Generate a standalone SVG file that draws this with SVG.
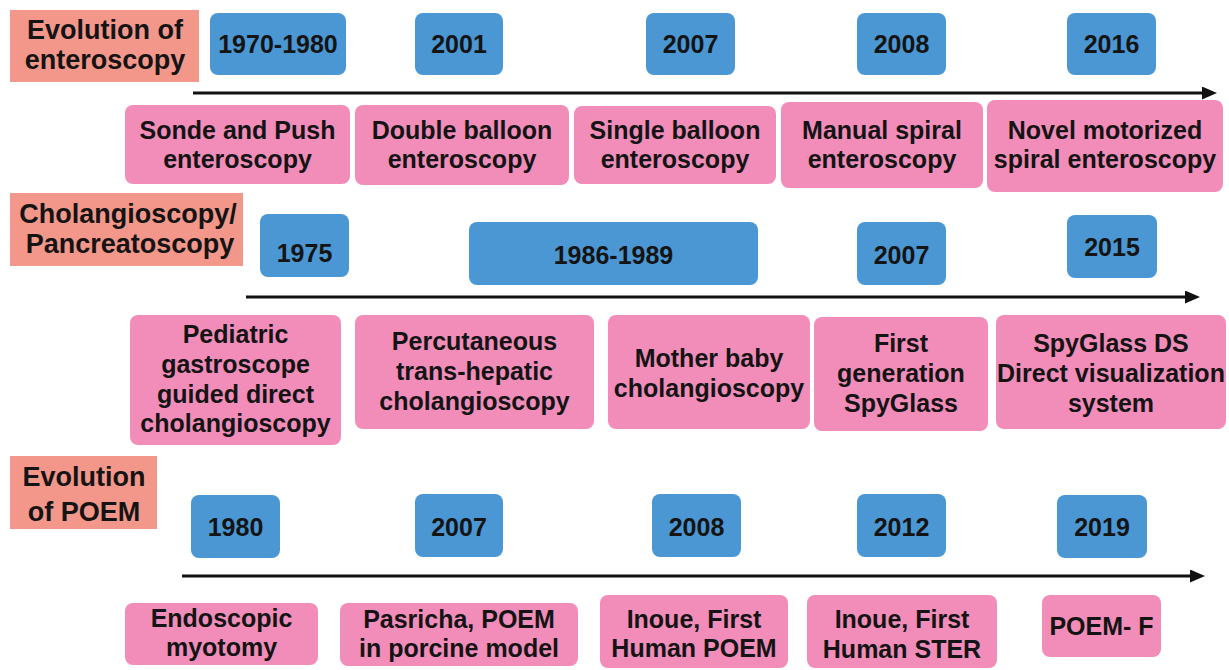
<svg xmlns="http://www.w3.org/2000/svg" width="1229" height="670" viewBox="0 0 1229 670">
<style>
text{font-family:"Liberation Sans",Arial,sans-serif;font-weight:bold;fill:#141414;text-anchor:middle}
.title rect{fill:#F4978B}
.title text{font-size:27px}
.year rect{fill:#4A97D4}
.year text{font-size:25px}
.event rect{fill:#F28DBA}
.event text{font-size:25px}
.axis{stroke:#111;stroke-width:3;fill:none}
</style>
<defs>
<marker id="ah" markerUnits="userSpaceOnUse" markerWidth="15" markerHeight="13" refX="0" refY="6.5" orient="auto">
<path d="M0,0 L15,6.5 L0,13 z" fill="#111"/>
</marker>
</defs>
<rect width="1229" height="670" fill="#fff"/>

<!-- Row 1: enteroscopy -->
<g id="title-enteroscopy" class="title"><rect x="10" y="10" width="189" height="72"/><text x="105" y="39">Evolution of</text><text x="105" y="69">enteroscopy</text></g>
<g id="y-1970-1980" class="year"><rect x="210" y="13" width="136" height="62" rx="8"/><text x="278" y="53">1970-1980</text></g>
<g id="y-2001" class="year"><rect x="415" y="13" width="88" height="62" rx="8"/><text x="459" y="53">2001</text></g>
<g id="y-2007a" class="year"><rect x="646" y="13" width="89" height="62" rx="8"/><text x="690.5" y="53">2007</text></g>
<g id="y-2008a" class="year"><rect x="857" y="13" width="89" height="62" rx="8"/><text x="901.5" y="53">2008</text></g>
<g id="y-2016" class="year"><rect x="1067" y="13" width="89" height="62" rx="8"/><text x="1111.5" y="53">2016</text></g>
<g id="e-sonde" class="event"><rect x="125" y="105" width="225" height="79" rx="8"/><text x="237.5" y="139">Sonde and Push</text><text x="237.5" y="168">enteroscopy</text></g>
<g id="e-double" class="event"><rect x="355" y="105" width="214" height="80" rx="8"/><text x="462" y="139">Double balloon</text><text x="462" y="168">enteroscopy</text></g>
<g id="e-single" class="event"><rect x="574" y="106" width="202" height="78" rx="8"/><text x="675" y="139">Single balloon</text><text x="675" y="168">enteroscopy</text></g>
<g id="e-manual" class="event"><rect x="781" y="102" width="202" height="86" rx="8"/><text x="882" y="139">Manual spiral</text><text x="882" y="168">enteroscopy</text></g>
<g id="e-novel" class="event"><rect x="987" y="100" width="236" height="92" rx="8"/><text x="1105" y="139">Novel motorized</text><text x="1105" y="168">spiral enteroscopy</text></g>

<!-- Row 2: cholangioscopy -->
<g id="title-cholangio" class="title"><rect x="10" y="193" width="233" height="73"/><text x="128" y="223">Cholangioscopy/</text><text x="130" y="253">Pancreatoscopy</text></g>
<g id="y-1975" class="year"><rect x="260" y="214" width="89" height="63" rx="8"/><text x="304.5" y="262">1975</text></g>
<g id="y-1986-1989" class="year"><rect x="469" y="222" width="289" height="63" rx="8"/><text x="613.5" y="264">1986-1989</text></g>
<g id="y-2007b" class="year"><rect x="857" y="222" width="89" height="63" rx="8"/><text x="901.5" y="264">2007</text></g>
<g id="y-2015" class="year"><rect x="1067" y="215" width="90" height="63" rx="8"/><text x="1112" y="256">2015</text></g>
<g id="e-pediatric" class="event"><rect x="130" y="315" width="211" height="130" rx="8"/><text x="235.5" y="343">Pediatric</text><text x="235.5" y="373">gastroscope</text><text x="235.5" y="403">guided direct</text><text x="235.5" y="432">cholangioscopy</text></g>
<g id="e-percutaneous" class="event"><rect x="355" y="315" width="239" height="114" rx="8"/><text x="474.5" y="350">Percutaneous</text><text x="474.5" y="380">trans-hepatic</text><text x="474.5" y="410">cholangioscopy</text></g>
<g id="e-mother" class="event"><rect x="608" y="315" width="202" height="114" rx="8"/><text x="709" y="367">Mother baby</text><text x="709" y="397">cholangioscopy</text></g>
<g id="e-first-gen" class="event"><rect x="814" y="317" width="174" height="114" rx="8"/><text x="901" y="352">First</text><text x="901" y="382">generation</text><text x="901" y="412">SpyGlass</text></g>
<g id="e-spyglass-ds" class="event"><rect x="996" y="315" width="230" height="114" rx="8"/><text x="1111" y="352">SpyGlass DS</text><text x="1111" y="382">Direct visualization</text><text x="1111" y="412">system</text></g>

<!-- Row 3: POEM -->
<g id="title-poem" class="title"><rect x="10" y="456" width="147" height="73"/><text x="84" y="486">Evolution</text><text x="84" y="521">of POEM</text></g>
<g id="y-1980" class="year"><rect x="191" y="495" width="89" height="63" rx="8"/><text x="235.5" y="536">1980</text></g>
<g id="y-2007c" class="year"><rect x="415" y="494" width="88" height="63" rx="8"/><text x="459" y="536">2007</text></g>
<g id="y-2008b" class="year"><rect x="652" y="494" width="89" height="63" rx="8"/><text x="696.5" y="536">2008</text></g>
<g id="y-2012" class="year"><rect x="857" y="494" width="89" height="63" rx="8"/><text x="901.5" y="536">2012</text></g>
<g id="y-2019" class="year"><rect x="1057" y="495" width="90" height="63" rx="8"/><text x="1102" y="536">2019</text></g>
<g id="e-endoscopic" class="event"><rect x="125" y="603" width="193" height="62" rx="8"/><text x="221.5" y="627">Endoscopic</text><text x="221.5" y="656">myotomy</text></g>
<g id="e-pasricha" class="event"><rect x="340" y="603" width="238" height="63" rx="8"/><text x="459" y="628">Pasricha, POEM</text><text x="459" y="657">in porcine model</text></g>
<g id="e-inoue-poem" class="event"><rect x="600" y="595" width="188" height="73" rx="8"/><text x="694" y="628">Inoue, First</text><text x="694" y="657">Human POEM</text></g>
<g id="e-inoue-ster" class="event"><rect x="807" y="595" width="190" height="73" rx="8"/><text x="902" y="628">Inoue, First</text><text x="902" y="658">Human STER</text></g>
<g id="e-poem-f" class="event"><rect x="1042" y="595" width="119" height="62" rx="8"/><text x="1101.5" y="635">POEM- F</text></g>

<!-- Connectors: timeline axes -->
<g id="connectors">
<line class="axis" x1="193" y1="93" x2="1202" y2="93" marker-end="url(#ah)"/>
<line class="axis" x1="246" y1="297" x2="1185" y2="297" marker-end="url(#ah)"/>
<line class="axis" x1="182" y1="576" x2="1190" y2="576" marker-end="url(#ah)"/>
</g>
</svg>
